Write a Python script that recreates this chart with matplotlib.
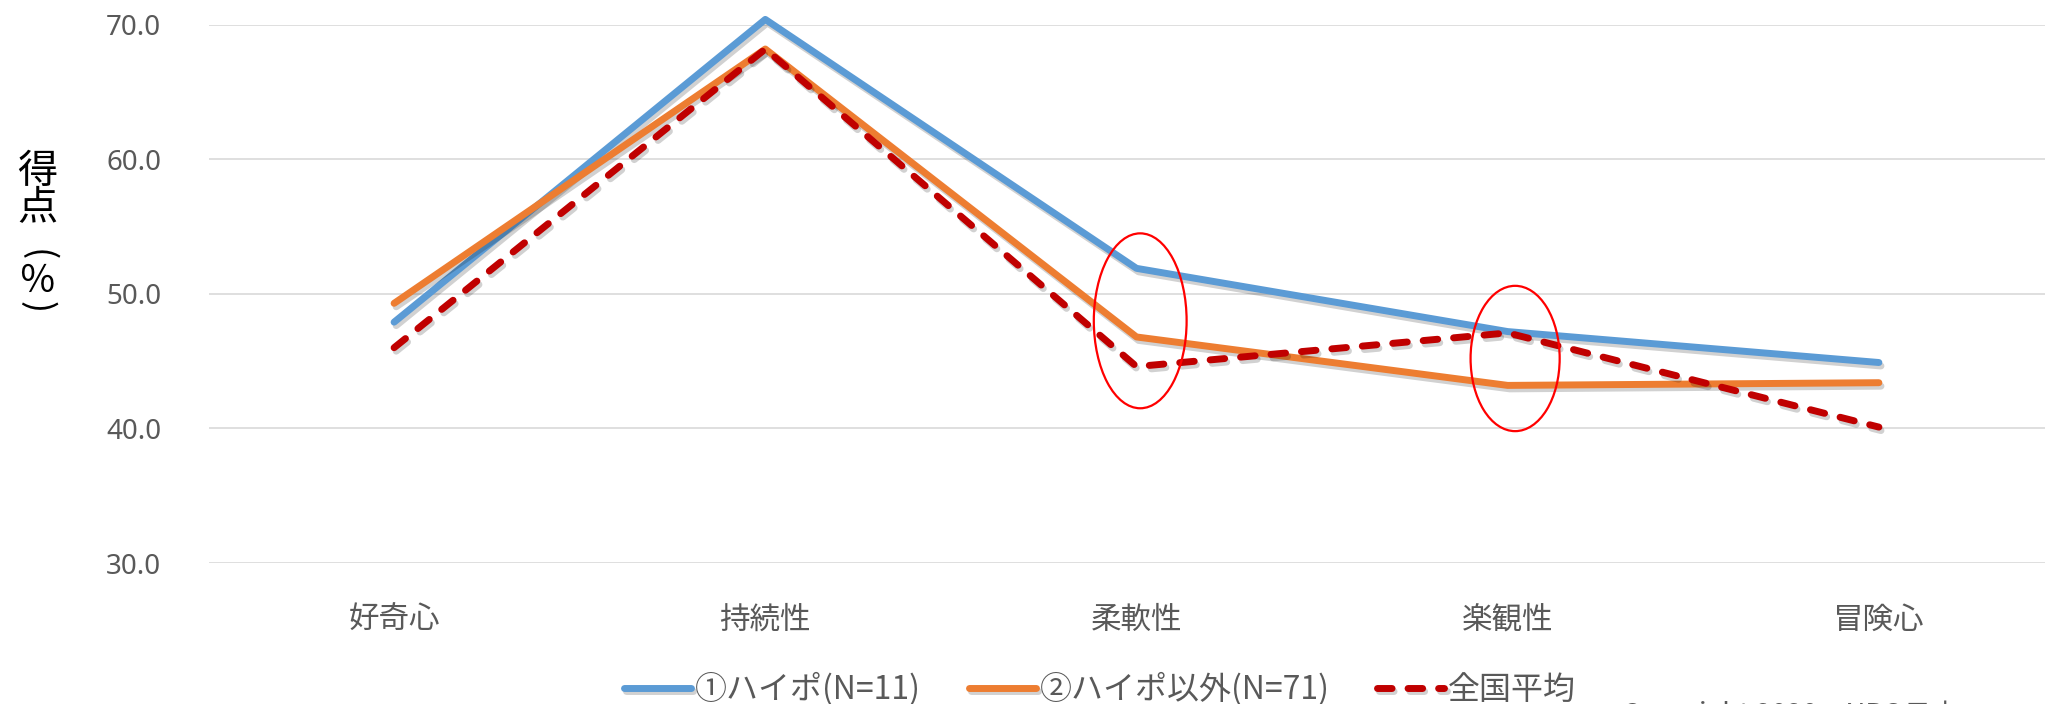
import matplotlib
matplotlib.use("Agg")
import matplotlib.pyplot as plt
import matplotlib.patheffects as pe
from matplotlib.patches import Ellipse

plt.rcParams['font.family'] = ['Noto Sans CJK JP', 'DejaVu Sans']

categories = ['好奇心', '持続性', '柔軟性', '楽観性', '冒険心']
high_potential = [47.9, 70.4, 51.9, 47.2, 44.9]
other_staff = [49.3, 68.2, 46.8, 43.2, 43.4]
national_avg = [46.0, 68.2, 44.6, 47.1, 40.1]
series_labels = ['①ハイポ(N=11)', '②ハイポ以外(N=71)', '全国平均']
y_ticks = [30.0, 40.0, 50.0, 60.0, 70.0]

W, H = 2045, 704
fig = plt.figure(figsize=(W / 100, H / 100), dpi=100)
ax = fig.add_axes([208.5 / W, 1 - 563 / H, (2064.5 - 208.5) / W, (563 - 24.8) / H])

shadow = [pe.SimpleLineShadow(offset=(1.5, -2.5), shadow_color='black', alpha=0.18),
          pe.Normal()]

x = list(range(len(categories)))
ax.plot(x, high_potential, color='#5B9BD5', lw=5, solid_capstyle='round',
        label=series_labels[0], path_effects=shadow, clip_on=False, zorder=3)
ax.plot(x, other_staff, color='#ED7D31', lw=5, solid_capstyle='round',
        label=series_labels[1], path_effects=shadow, clip_on=False, zorder=4)
ax.plot(x, national_avg, color='#C00000', lw=5, dashes=(2.1, 2.3),
        dash_capstyle='round', label=series_labels[2], path_effects=shadow,
        clip_on=False, zorder=5)

# highlight the two points where the national average crosses over
for cx, cy, w, h in [(2.01, 48.0, 0.25, 13.0), (3.02, 45.2, 0.24, 10.8)]:
    ax.add_patch(Ellipse((cx, cy), w, h, fill=False, edgecolor='#FF0000',
                         lw=1.6, zorder=6, clip_on=False))

ax.set_xlim(-0.5, 4.5)
ax.set_ylim(30, 70)
ax.set_yticks(y_ticks)
ax.set_yticklabels([f'{v:.1f}' for v in y_ticks], fontsize=20, color='#595959',
                   family=['Noto Sans', 'DejaVu Sans'])
ax.set_xticks(x)
ax.set_xticklabels(categories, fontsize=22, color='#595959')
ax.tick_params(axis='y', length=0, pad=34)
ax.tick_params(axis='x', length=0, pad=30)
ax.grid(axis='y', color='#D9D9D9', lw=1.2)
ax.set_axisbelow(True)
for s in ax.spines.values():
    s.set_visible(False)

# vertical axis title, one glyph per slot (brackets turned for vertical writing)
for ch, yc, rot, fs in [('得', 171, 0, 29), ('点', 209, 0, 29),
                        ('(', 255, -90, 26), ('％', 281, 0, 27),
                        (')', 307, -90, 26)]:
    fig.text(37 / W, 1 - yc / H, ch, fontsize=fs, ha='center', va='center',
             rotation=rot, color='black')

fig.legend(loc='center', bbox_to_anchor=(1100 / W, 1 - 689 / H), ncol=3,
           frameon=False, fontsize=23, handlelength=2.1, handletextpad=0.12,
           columnspacing=1.5, labelcolor='#595959', borderaxespad=0,
           borderpad=0)

fig.text(1622 / W, 1 - 700 / H, 'Copyright 2020　NPO日本', fontsize=20,
         color='#595959', ha='left', va='top')

fig.savefig('out.png', dpi=100)
